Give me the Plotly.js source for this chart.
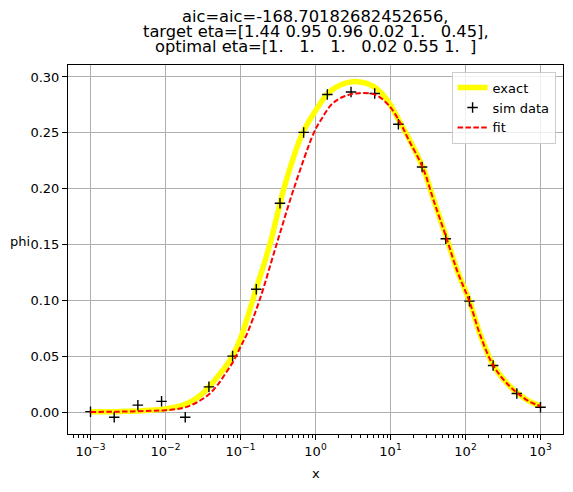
<!DOCTYPE html>
<html>
<head>
<meta charset="utf-8">
<script src="https://cdn.plot.ly/plotly-3.0.1.min.js"></script>
<style>
  html, body { margin: 0; padding: 0; background: #ffffff; }
  #chart { width: 573px; height: 492px; }
</style>
</head>
<body>
<div id="chart"></div>
<script>
// ---- data ----
const exactX = [0.001, 0.0025, 0.0063, 0.01, 0.0158, 0.0215, 0.0293, 0.038, 0.049, 0.063, 0.078, 0.1,
                0.163, 0.246, 0.371, 0.464, 0.665, 1.0, 1.5, 2.15, 3.6, 6.0, 9.0, 13.6, 18.5, 26.9,
                37.8, 56.4, 77.4, 113, 158, 236, 360, 505, 736, 1000];
const exactY = [0.0003, 0.0007, 0.0018, 0.003, 0.0057, 0.0092, 0.0152, 0.0227, 0.0316, 0.0406, 0.050, 0.066,
                0.111, 0.150, 0.198, 0.2197, 0.249, 0.2697, 0.286, 0.2928, 0.2958, 0.2913, 0.2794, 0.2585, 0.242, 0.2194,
                0.1898, 0.1552, 0.127, 0.0994, 0.069, 0.0418, 0.0257, 0.0167, 0.0092, 0.0057];

const simX = [0.001, 0.00207, 0.00428, 0.00886, 0.01833, 0.03793, 0.07848, 0.1624, 0.336, 0.6952,
              1.438, 2.976, 6.158, 12.74, 26.37, 54.56, 112.9, 233.6, 483.3, 1000];
const simY = [0.0005, -0.0045, 0.0063, 0.0097, -0.0045, 0.0227, 0.0502, 0.110, 0.187, 0.2504,
              0.2843, 0.2865, 0.2852, 0.2577, 0.2194, 0.1552, 0.0994, 0.0418, 0.0167, 0.0045];

const fitX = [0.001, 0.0025, 0.0063, 0.01, 0.0158, 0.0215, 0.0293, 0.038, 0.049, 0.063, 0.081, 0.1, 0.12,
              0.179, 0.302, 0.514, 0.95, 1.17, 1.67, 2.39, 3.78, 6.3, 9.5, 13.6, 17.5, 26.9,
              37.8, 56.4, 77.4, 113, 158, 236, 360, 505, 736, 1000];
const fitY = [0.0002, 0.0005, 0.0012, 0.0018, 0.0033, 0.006, 0.0107, 0.016, 0.024, 0.0346, 0.046, 0.0585, 0.069,
              0.100, 0.150, 0.200, 0.250, 0.261, 0.276, 0.2825, 0.2855, 0.284, 0.2746, 0.2585, 0.2436, 0.219,
              0.189, 0.1548, 0.1265, 0.099, 0.0685, 0.0415, 0.0255, 0.0165, 0.009, 0.0055];

const xTickVals = [0.001, 0.01, 0.1, 1, 10, 100, 1000];
const xTickText = ['10<sup>\u22123</sup>', '10<sup>\u22122</sup>', '10<sup>\u22121</sup>', '10<sup>0</sup>',
                   '10<sup>1</sup>', '10<sup>2</sup>', '10<sup>3</sup>'];
const yTickVals = [0.00, 0.05, 0.10, 0.15, 0.20, 0.25, 0.30];

const titleLines = [
  'aic=aic=-168.70182682452656,',
  'target eta=[1.44 0.95 0.96 0.02 1.\u00a0\u00a0\u00a00.45],',
  'optimal eta=[1.\u00a0\u00a0\u00a01.\u00a0\u00a0\u00a01.\u00a0\u00a0\u00a00.02 0.55 1.\u00a0\u00a0]'
];
const legendNames = ['exact', 'sim data', 'fit'];

// minor log ticks (2..9 times each decade) for the bottom axis
const minorTickVals = [];
[0.0001, 0.001, 0.01, 0.1, 1, 10, 100, 1000].forEach(d => {
  for (let k = 2; k <= 9; k++) minorTickVals.push(k * d);
});

// ---- figure ----
const FONT = 'DejaVu Sans, Liberation Sans, sans-serif';

const traces = [
  {
    x: exactX, y: exactY, name: legendNames[0], type: 'scatter', mode: 'lines',
    line: { color: '#ffff00', width: 5.5, shape: 'spline', smoothing: 1 }
  },
  {
    x: simX, y: simY, name: legendNames[1], type: 'scatter', mode: 'markers',
    marker: { symbol: 'cross-thin-open', size: 7.5, color: '#000000', line: { color: '#000000', width: 1.4 } }
  },
  {
    x: fitX, y: fitY, name: legendNames[2], type: 'scatter', mode: 'lines',
    line: { color: '#ff0000', width: 2, dash: '5.5px,2.4px', shape: 'spline', smoothing: 1 }
  }
];

const titleY = [1.1313, 1.0906, 1.0489];
const annotations = titleLines.map((t, i) => ({
  text: t, xref: 'paper', yref: 'paper', x: 0.5, y: titleY[i],
  xanchor: 'center', yanchor: 'middle', showarrow: false,
  font: { family: FONT, size: 16.3, color: '#000000' }
}));
annotations.push({
  text: 'phi', xref: 'paper', yref: 'paper', x: -0.097, y: 0.5225,
  xanchor: 'center', yanchor: 'middle', showarrow: false,
  font: { family: FONT, size: 13, color: '#000000' }
});
annotations.push({
  text: 'x', xref: 'paper', yref: 'paper', x: 0.5, y: -0.1084,
  xanchor: 'center', yanchor: 'middle', showarrow: false,
  font: { family: FONT, size: 13, color: '#000000' }
});

const layout = {
  width: 573, height: 492,
  margin: { l: 68, r: 10, t: 65, b: 58, pad: 0 },
  paper_bgcolor: '#ffffff', plot_bgcolor: '#ffffff',
  font: { family: FONT, size: 13, color: '#000000' },
  showlegend: true,
  legend: {
    x: 0.985, y: 0.982, xanchor: 'right', yanchor: 'top',
    bgcolor: 'rgba(255,255,255,0.8)', bordercolor: '#cccccc', borderwidth: 1,
    font: { family: FONT, size: 13, color: '#000000' },
    itemwidth: 30
  },
  xaxis: {
    type: 'log', range: [-3.3, 3.3],
    tickmode: 'array', tickvals: xTickVals, ticktext: xTickText,
    ticks: 'outside', ticklen: 5, tickwidth: 1, tickcolor: '#000000',
    showline: true, linecolor: '#000000', linewidth: 1, mirror: true,
    showgrid: true, gridcolor: '#b0b0b0', gridwidth: 1, zeroline: false,
    tickfont: { family: FONT, size: 13, color: '#000000' },
    minor: {
      tickmode: 'array', tickvals: minorTickVals,
      ticks: 'outside', ticklen: 3, tickwidth: 1, tickcolor: '#000000', showgrid: false
    }
  },
  yaxis: {
    range: [-0.0195, 0.3107],
    tickmode: 'array', tickvals: yTickVals, tickformat: '.2f',
    ticks: 'outside', ticklen: 5, tickwidth: 1, tickcolor: '#000000',
    showline: true, linecolor: '#000000', linewidth: 1, mirror: true,
    showgrid: true, gridcolor: '#b0b0b0', gridwidth: 1, zeroline: false,
    tickfont: { family: FONT, size: 13, color: '#000000' }
  },
  annotations: annotations
};

Plotly.newPlot('chart', traces, layout, { displayModeBar: false, staticPlot: true });
</script>
</body>
</html>
